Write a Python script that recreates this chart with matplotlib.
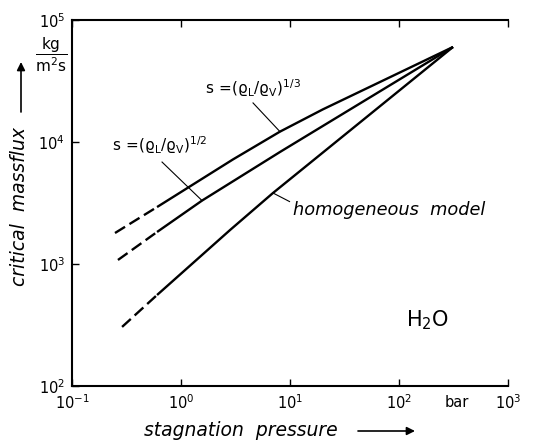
import numpy as np
import matplotlib
matplotlib.use('Agg')
import matplotlib.pyplot as plt
from matplotlib.ticker import FixedLocator, NullLocator

# ---- data (pressure in bar, mass flux in kg/m^2 s) ----
p_third = [0.248, 0.603, 3.0, 8.09, 20.0, 313]
G_third = [1795, 2930, 7200, 12160, 18500, 60100]

p_half = [0.264, 0.603, 1.56, 8.09, 313]
G_half = [1079, 1830, 3310, 8280, 60100]

p_hom = [0.288, 0.603, 2.82, 6.98, 313]
G_hom = [305, 557, 1900, 3820, 60100]

x_ticks = [1e-1, 1e0, 1e1, 1e2, 1e3]
y_ticks = [1e2, 1e3, 1e4, 1e5]

DASH_END = 0.603  # bar: curves are dashed below this pressure

plt.rcParams['font.family'] = ['DejaVu Sans']
plt.rcParams['mathtext.fontset'] = 'dejavusans'
plt.rcParams['mathtext.default'] = 'regular'

fig = plt.figure(figsize=(5.47, 4.42), dpi=100)
ax = fig.add_axes([72/547, 1-386/442, (508-72)/547, (386-20)/442])
ax.set_xscale('log')
ax.set_yscale('log')
ax.set_xlim(1e-1, 1e3)
ax.set_ylim(1e2, 1e5)


def plot_curve(p, G):
    p = np.asarray(p, float)
    G = np.asarray(G, float)
    m1 = p <= DASH_END
    m2 = p >= DASH_END
    ax.plot(p[m1], G[m1], color='k', lw=1.7, dashes=(5, 2.2),
            dash_capstyle='butt')
    ax.plot(p[m2], G[m2], color='k', lw=1.7, solid_capstyle='butt')


def on_curve(p, G, x):
    return 10 ** np.interp(np.log10(x), np.log10(p), np.log10(G))


plot_curve(p_third, G_third)
plot_curve(p_half, G_half)
plot_curve(p_hom, G_hom)

# ---- labels with leader lines ----
lab_kw = dict(fontsize=11, ha='left', va='center')
ax.text(1.66, 27700, r'$s\,=\!(\varrho_L/\varrho_V)^{1/3}$', **lab_kw)
ax.plot([4.58, 8.09], [20900, on_curve(p_third, G_third, 8.09)], color='k', lw=0.8)

ax.text(0.233, 9440, r'$s\,=\!(\varrho_L/\varrho_V)^{1/2}$', **lab_kw)
ax.plot([0.67, 1.56], [6850, on_curve(p_half, G_half, 1.56)], color='k', lw=0.8)

ax.text(10.7, 2770, 'homogeneous  model', fontsize=12.8, style='italic',
        ha='left', va='center')
ax.plot([9.9, 6.98], [3250, on_curve(p_hom, G_hom, 6.98)], color='k', lw=0.8)

ax.text(181, 348, r'$H_2O$', fontsize=15, ha='center', va='center')

# ---- axes styling ----
ax.xaxis.set_major_locator(FixedLocator(x_ticks))
ax.yaxis.set_major_locator(FixedLocator(y_ticks))
ax.xaxis.set_minor_locator(NullLocator())
ax.yaxis.set_minor_locator(NullLocator())
ax.tick_params(which='major', direction='in', length=5, width=1,
               top=True, right=False, labelsize=10.5, pad=5)
for s in ('left', 'bottom', 'top'):
    ax.spines[s].set_linewidth(1.5)
ax.spines['right'].set_visible(False)

ax.annotate('bar', xy=(340, 0), xycoords=('data', 'axes fraction'),
            xytext=(0, -12), textcoords='offset points',
            ha='center', va='center', fontsize=10.5)

# unit on the y axis
fig.text(51/547, 1-55/442, r'$\dfrac{kg}{m^2s}$', fontsize=11,
         ha='center', va='center')

# axis titles with arrows
fig.text(20/547, 1-207/442, 'critical  massflux', rotation=90, style='italic',
         fontsize=13.5, ha='center', va='center')
fig.text(241/547, 1-430/442, 'stagnation  pressure', style='italic',
         fontsize=13.5, ha='center', va='center')
arr = dict(arrowstyle='-|>', lw=1.2, color='k', mutation_scale=12,
           shrinkA=0, shrinkB=0)
ax.annotate('', xy=(21/547, 1-62/442), xytext=(21/547, 1-112/442),
            xycoords='figure fraction', textcoords='figure fraction',
            arrowprops=arr)
ax.annotate('', xy=(415/547, 1-431/442), xytext=(358/547, 1-431/442),
            xycoords='figure fraction', textcoords='figure fraction',
            arrowprops=arr)

fig.savefig('out.png', dpi=100)
